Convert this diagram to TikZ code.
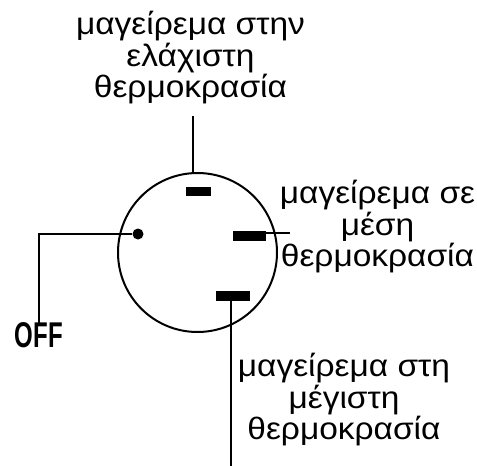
\documentclass[tikz,border=0pt]{standalone}
\usepackage{fontspec}
\setmainfont{Liberation Sans}
\newfontfamily\labelfont[FakeStretch=1.08]{Liberation Sans}
\begin{document}
\begin{tikzpicture}[x=1pt,y=-1pt,
  label text/.style={align=center, font=\labelfont\fontsize{31}{31.5}\selectfont, inner sep=0pt},
  dial mark/.style={fill=black, inner sep=0pt, draw=none},
  lead/.style={line width=1.3pt}
]
\useasboundingbox (0,0) rectangle (477,466);

% dial face
\draw[line width=2pt] (197.5,252.5) circle[radius=79.5];

% position marks on the dial
\node[dial mark, minimum width=25pt, minimum height=9pt] (min) at (198.5,191.5) {};
\node[dial mark, minimum width=33pt, minimum height=10pt] (med) at (249.5,235.5) {};
\node[dial mark, minimum width=34pt, minimum height=10pt] (max) at (233,296) {};
\node[dial mark, circle, minimum size=11pt] (dot) at (138,234) {};

% labels
\node[label text] (lmin) at (190.5,58) {μαγείρεμα στην\\ελάχιστη\\θερμοκρασία};
\node[label text] (lmed) at (377.5,227) {μαγείρεμα σε\\μέση\\θερμοκρασία};
\node[label text] (lmax) at (344,400) {μαγείρεμα στη\\μέγιστη\\θερμοκρασία};
\node[inner sep=0pt, anchor=north] (off) at (39,322.5)
  {\resizebox{48pt}{25pt}{\bfseries OFF}};

% leader lines
\coordinate (minend) at (193,116);
\coordinate (minring) at (193,173);
\coordinate (medend) at (290,233);
\coordinate (maxend) at (231,466);

\draw[lead] (minend) -- (minring);
\draw[lead] (med.east |- medend) -- (medend);
\draw[lead] (max.south -| maxend) -- (maxend);
\draw[lead] ([yshift=-3.5pt]off.north) |- (dot.west);
\end{tikzpicture}
\end{document}
